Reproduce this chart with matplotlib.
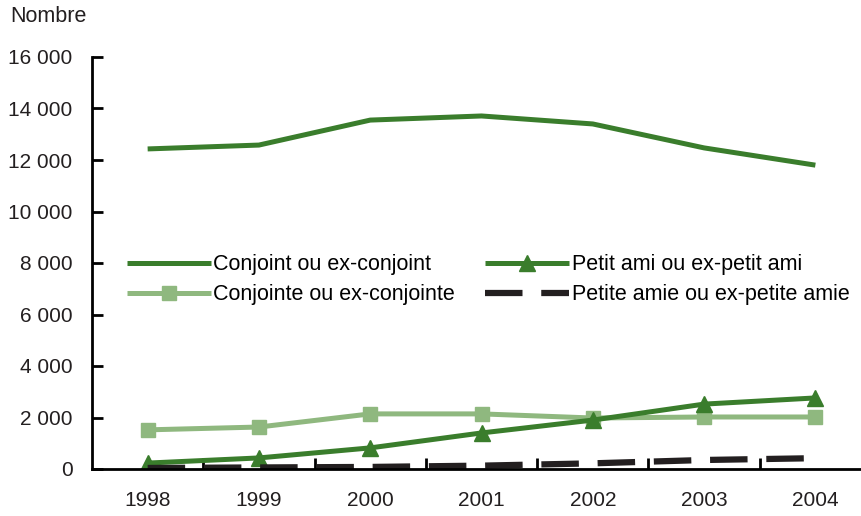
import matplotlib.pyplot as plt
import numpy as np

years = ["1998", "1999", "2000", "2001", "2002", "2003", "2004"]
conjoint = [12430, 12580, 13550, 13710, 13400, 12470, 11800]
conjointe = [1520, 1630, 2140, 2140, 1980, 2020, 2020]
petit_ami = [230, 430, 820, 1400, 1900, 2520, 2760]
petite_amie = [40, 60, 80, 130, 220, 350, 420]
yticks = [0, 2000, 4000, 6000, 8000, 10000, 12000, 14000, 16000]
ytick_labels = ["0", "2 000", "4 000", "6 000", "8 000", "10 000", "12 000", "14 000", "16 000"]

plt.rcParams['font.family'] = ['Liberation Sans', 'DejaVu Sans']

dark = "#3a7d2c"
light = "#8fb87f"
black = "#231f20"

fig = plt.figure(figsize=(8.61, 5.16), dpi=100)
ax = fig.add_axes([92 / 861, 1 - 469 / 516, 1 - 92 / 861, (469 - 57) / 516])

x = np.arange(len(years))
ax.plot(x, conjoint, color=dark, lw=3.6, label="Conjoint ou ex-conjoint", solid_capstyle="butt")
ax.plot(x, conjointe, color=light, lw=3.6, marker="s", markersize=10.5,
        label="Conjointe ou ex-conjointe", solid_capstyle="butt")
ax.plot(x, petit_ami, color=dark, lw=3.6, marker="^", markersize=11.5,
        label="Petit ami ou ex-petit ami", solid_capstyle="butt")
ax.plot(x, petite_amie, color=black, lw=4.5, dashes=(6.0, 3.0),
        label="Petite amie ou ex-petite amie", dash_capstyle="butt")

ax.set_xlim(-0.5, 6.41)
ax.set_ylim(0, 16000)
ax.set_yticks(yticks)
ax.set_yticklabels(ytick_labels, fontsize=15, color="#231f20")
ax.set_xticks(x)
ax.set_xticklabels(years, fontsize=15, color="#231f20")
ax.tick_params(axis="x", length=0, pad=16)
ax.set_xticks(np.arange(0.5, 6.5, 1), minor=True)
ax.tick_params(axis="x", which="minor", direction="in", length=8, width=2, color="black")
ax.tick_params(axis="y", direction="in", length=8, width=2, pad=14)

for side in ["top", "right"]:
    ax.spines[side].set_visible(False)
for side in ["left", "bottom"]:
    ax.spines[side].set_linewidth(2)

fig.text(10 / 861, 1 - 16 / 516, "Nombre", fontsize=15.5, va="center", ha="left", color="#231f20")

handles, labels = ax.get_legend_handles_labels()
ax.legend(handles, labels, ncol=2,
          loc="upper left", bbox_to_anchor=(0.034, 0.5426), frameon=False,
          fontsize=15.5, handlelength=3.9, handletextpad=0.12, columnspacing=1.4,
          labelspacing=0.42, borderaxespad=0)

fig.savefig("out.png", dpi=100)
